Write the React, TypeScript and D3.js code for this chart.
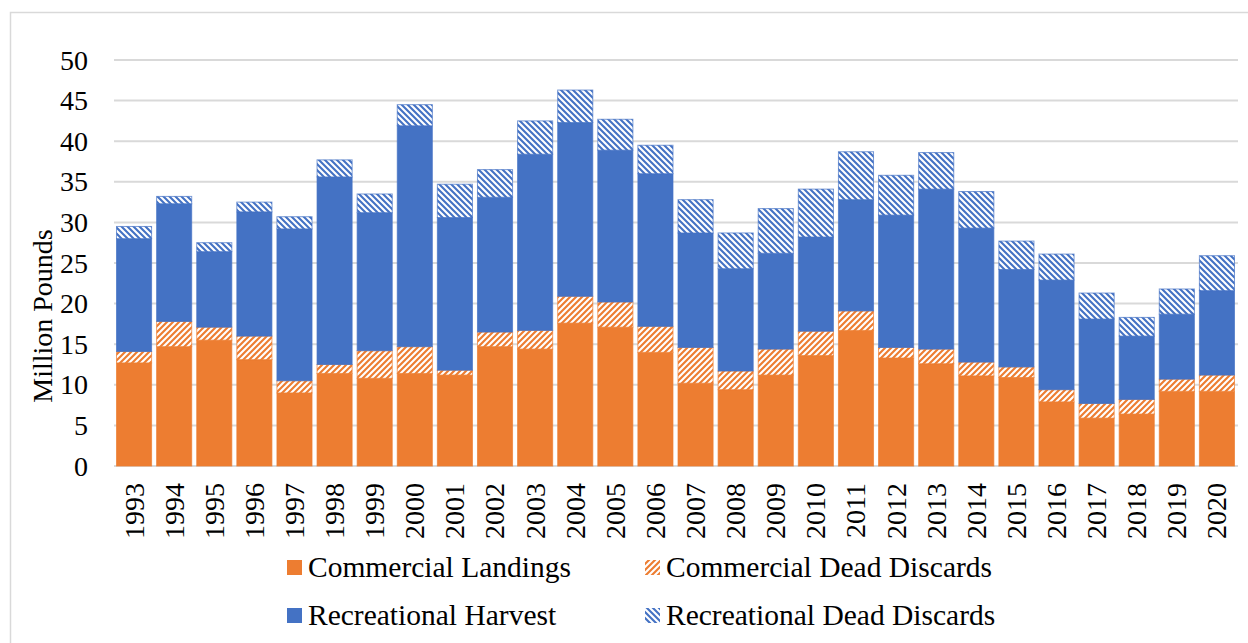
import React from "react";
import * as d3 from "d3";

const years = [
  "1993","1994","1995","1996","1997","1998","1999","2000","2001","2002",
  "2003","2004","2005","2006","2007","2008","2009","2010","2011","2012",
  "2013","2014","2015","2016","2017","2018","2019","2020",
];
const commercialLandings = [12.7,14.7,15.5,13.1,9.0,11.4,10.8,11.4,11.2,14.7,14.4,17.6,17.1,14.0,10.2,9.4,11.2,13.6,16.7,13.3,12.6,11.1,10.9,7.9,5.9,6.4,9.2,9.2];
const commercialDeadDiscards = [1.4,3.1,1.6,2.9,1.5,1.1,3.4,3.3,0.6,1.8,2.3,3.3,3.1,3.2,4.4,2.3,3.2,3.0,2.4,1.3,1.8,1.7,1.3,1.5,1.8,1.8,1.5,2.0];
const recreationalHarvest = [13.9,14.5,9.3,15.3,18.7,23.1,17.0,27.2,18.8,16.6,21.7,21.4,18.7,18.8,14.1,12.6,11.8,11.6,13.7,16.3,19.7,16.5,12.0,13.5,10.4,7.8,8.0,10.4];
const recreationalDeadDiscards = [1.5,0.9,1.1,1.2,1.5,2.1,2.3,2.6,4.1,3.4,4.1,4.0,3.8,3.5,4.1,4.4,5.5,5.9,5.9,4.9,4.5,4.5,3.5,3.2,3.2,2.3,3.1,4.3];
const yTicks = [0,5,10,15,20,25,30,35,40,45,50];
const seriesNames = ["Commercial Landings","Commercial Dead Discards","Recreational Harvest","Recreational Dead Discards"];

const ORANGE = "#ED7D31";
const BLUE = "#4472C4";
const GRID = "#d9d9d9";
const FONT = "'Liberation Serif', 'Times New Roman', serif";

export default function App() {
  const W = 1248, H = 643;
  const x = d3.scaleBand<string>().domain(years).range([114, 1237]).paddingInner(0.1).paddingOuter(0.05);
  const y = d3.scaleLinear().domain([0, 50]).range([466, 60]);

  const rows = years.map((yr, i) => ({
    year: yr,
    cl: commercialLandings[i],
    cdd: commercialDeadDiscards[i],
    rh: recreationalHarvest[i],
    rdd: recreationalDeadDiscards[i],
  }));
  const keys = ["cl", "cdd", "rh", "rdd"];
  const stacked = d3.stack<any>().keys(keys)(rows);
  const fills = [ORANGE, "url(#hatchOrange)", BLUE, "url(#hatchBlue)"];
  const strokes = [ORANGE, ORANGE, BLUE, BLUE];

  const fs = 28;

  const legend = [
    { name: seriesNames[0], fill: ORANGE, sx: 287, tx: 308, by: 577 },
    { name: seriesNames[1], fill: "url(#hatchOrange)", sx: 645, tx: 666, by: 577 },
    { name: seriesNames[2], fill: BLUE, sx: 287, tx: 308, by: 625 },
    { name: seriesNames[3], fill: "url(#hatchBlue)", sx: 645, tx: 666, by: 625 },
  ];

  return (
    <div style={{ position: "absolute", left: 0, top: 0 }}>
      <svg width={W} height={H} style={{ display: "block", background: "#fff" }}>
        <defs>
          <pattern id="hatchOrange" patternUnits="userSpaceOnUse" width={6} height={6}>
            <rect width={6} height={6} fill={ORANGE} />
            <path d="M0,6 L6,0 M-1.5,1.5 L1.5,-1.5 M4.5,7.5 L7.5,4.5" stroke="#fff" strokeWidth={2.1} />
          </pattern>
          <pattern id="hatchBlue" patternUnits="userSpaceOnUse" width={6} height={6}>
            <rect width={6} height={6} fill={BLUE} />
            <path d="M0,0 L6,6 M-1.5,4.5 L1.5,7.5 M4.5,-1.5 L7.5,1.5" stroke="#fff" strokeWidth={2.1} />
          </pattern>
        </defs>
        {/* frame */}
        <path d={`M10.5,${H} L10.5,12.5 L${W},12.5`} fill="none" stroke={GRID} strokeWidth={1.5} />
        {/* grid */}
        {yTicks.map((t) => (
          <line key={t} x1={114} x2={1238} y1={y(t)} y2={y(t)} stroke={GRID} strokeWidth={2} />
        ))}
        {/* bars */}
        {stacked.map((s, si) => (
          <g key={si}>
            {s.map((d: any, i: number) => (
              <rect
                key={i}
                x={x(years[i])! + 0.5}
                width={x.bandwidth() - 1}
                y={y(d[1])}
                height={y(d[0]) - y(d[1])}
                fill={fills[si]}
                stroke={strokes[si]}
                strokeOpacity={0.7}
                strokeWidth={1}
              />
            ))}
          </g>
        ))}
        {/* y ticks */}
        {yTicks.map((t) => (
          <text key={t} x={88} y={y(t)} dy="0.34em" textAnchor="end" fontFamily={FONT} fontSize={fs} fill="#000">
            {t}
          </text>
        ))}
        {/* x labels */}
        {years.map((yr) => (
          <text
            key={yr}
            transform={`translate(${x(yr)! + x.bandwidth() / 2 + 0.338 * fs},483) rotate(-90)`}
            textAnchor="end"
            fontFamily={FONT}
            fontSize={fs}
            fill="#000"
          >
            {yr}
          </text>
        ))}
        {/* y title */}
        <text
          transform={`translate(${42 + 0.34 * fs},316) rotate(-90)`}
          textAnchor="middle"
          fontFamily={FONT}
          fontSize={fs}
          fill="#000"
        >
          Million Pounds
        </text>
        {/* legend */}
        {legend.map((l) => (
          <g key={l.name}>
            <rect x={l.sx} y={l.by - 17} width={15} height={15} fill={l.fill} />
            <text x={l.tx} y={l.by} fontFamily={FONT} fontSize={29.5} fill="#000">
              {l.name}
            </text>
          </g>
        ))}
      </svg>
    </div>
  );
}
